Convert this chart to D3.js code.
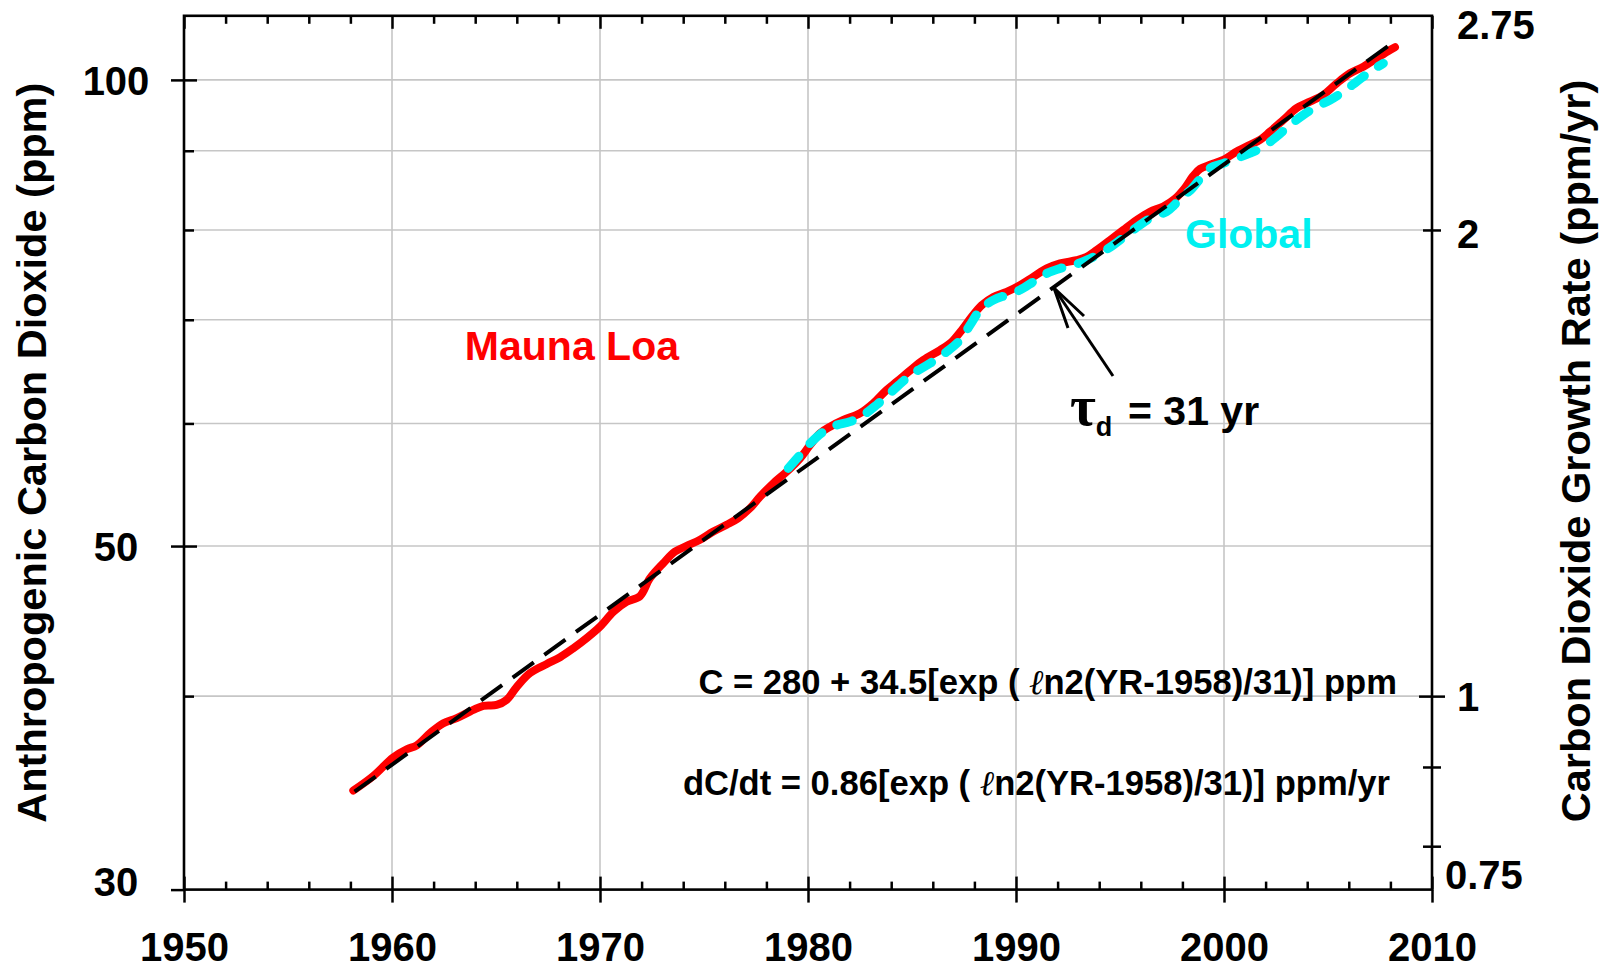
<!DOCTYPE html>
<html><head><meta charset="utf-8">
<script src="https://cdn.jsdelivr.net/npm/d3@7"></script>
<style>
body{margin:0;background:#fff}
svg{display:block}
text{font-family:"Liberation Sans",Arial,Helvetica,sans-serif;font-weight:bold}
</style>
</head><body>
<svg id="chart" width="1609" height="968"></svg>
<script>
// ---------- data ----------
const maunaLoaYears = [1958.14,1959.10,1960.06,1960.71,1961.19,1961.83,1962.47,1963.11,1963.91,1964.39,1965.03,1965.51,1966.00,1966.63,1967.44,1968.08,1968.72,1969.36,1970.00,1970.64,1971.28,1971.92,1972.40,1973.04,1973.61,1974.17,1974.81,1975.45,1976.09,1976.65,1977.21,1977.69,1978.33,1978.98,1979.62,1980.10,1980.58,1981.06,1981.70,1982.50,1983.14,1983.78,1984.30,1984.90,1985.54,1986.35,1986.91,1987.39,1987.87,1988.35,1988.91,1989.55,1990.19,1990.83,1991.48,1992.12,1992.92,1993.40,1993.88,1994.52,1995.16,1995.80,1996.44,1997.08,1997.64,1998.10,1998.52,1998.85,1999.33,1999.97,2000.61,2001.25,2001.73,2002.21,2002.85,2003.49,2004.13,2004.77,2005.42,2006.06,2006.70,2007.34,2007.98,2008.22];
const maunaLoaValues = [34.76,35.52,36.52,36.96,37.18,37.86,38.42,38.71,39.19,39.43,39.48,39.78,40.56,41.39,41.96,42.38,42.95,43.60,44.35,45.34,46.02,46.41,47.66,48.74,49.59,50.01,50.47,51.09,51.61,52.12,52.89,53.80,54.89,55.85,56.97,58.10,59.13,59.71,60.31,60.91,61.83,63.06,63.90,64.90,65.92,66.91,67.74,68.93,70.31,71.53,72.42,72.96,73.70,74.61,75.55,76.12,76.49,76.87,77.64,78.80,80.00,81.19,82.20,82.85,83.80,85.10,86.70,87.60,88.14,88.78,89.89,90.79,91.47,92.59,94.21,95.88,96.82,97.78,99.49,100.99,101.98,103.27,104.55,104.98];

const globalYears = [1979.05,1979.62,1980.10,1980.74,1981.38,1982.02,1982.66,1983.30,1983.94,1984.58,1985.06,1985.87,1986.67,1987.31,1987.79,1988.27,1988.91,1989.55,1990.19,1990.83,1991.48,1992.12,1992.76,1993.40,1994.04,1994.68,1995.32,1995.96,1996.60,1997.24,1997.60,1998.04,1998.40,1998.75,1999.33,1999.97,2000.61,2001.25,2001.89,2002.53,2003.17,2003.81,2004.45,2005.10,2005.74,2006.38,2007.02,2007.66];
const globalValues = [56.12,57.26,58.25,59.27,59.86,60.16,60.76,61.68,62.76,63.90,64.65,65.61,66.75,67.92,69.45,71.01,72.08,72.62,73.16,74.06,75.00,75.55,75.93,76.49,77.25,78.23,79.41,80.60,81.60,82.20,83.00,84.20,84.90,86.00,87.70,88.33,89.00,89.67,90.54,91.91,93.51,94.91,96.10,97.05,98.27,99.74,101.23,102.50];

// exponential fit C-280 = 34.5 exp(ln2 (YR-1958)/31): a straight line on the log axis, end points
const fitYears = [1958.2, 2008.2];
const fitValues = [34.7, 105.9];

const xTickLabels = [1950,1960,1970,1980,1990,2000,2010];
const xMinorTicks = [1952,1954,1956,1958,1962,1964,1966,1968,1972,1974,1976,1978,1982,1984,1986,1988,1992,1994,1996,1998,2002,2004,2006,2008];
const leftTickLabels = [30,50,100];
const leftMinorTicks = [40,60,70,80,90];
const rightTickLabels = [0.75,1,2,2.75];
const rightMinorTicks = [0.8,0.9];
const gridValues = [40,50,60,70,80,90,100];
const gridYears = [1960,1970,1980,1990,2000];

// ---------- layout ----------
const L = 184, R = 1432, T = 15.8, B = 889.6;
const svg = d3.select("#chart");
const x = d3.scaleLinear().domain([1950,2010]).range([L,R]);
const y = d3.scaleLog().domain([30,110]).range([B,T]);
const y2 = d3.scaleLog().domain([0.75,2.75]).range([B,T]);

// grid
const grid = svg.append("g").attr("stroke","#c6c6c6").attr("stroke-width",1.6);
grid.selectAll(".gh").data(gridValues).join("line")
  .attr("x1",L).attr("x2",R).attr("y1",d=>y(d)).attr("y2",d=>y(d));
grid.selectAll(".gv").data(gridYears).join("line")
  .attr("y1",T).attr("y2",B).attr("x1",d=>x(d)).attr("x2",d=>x(d));

// series
const line = d3.line().x(d=>x(d[0])).y(d=>y(d[1])).curve(d3.curveCatmullRom);
const ml = maunaLoaYears.map((t,i)=>[t,maunaLoaValues[i]]);
const gl = globalYears.map((t,i)=>[t,globalValues[i]]);
const fit = fitYears.map((t,i)=>[t,fitValues[i]]);

svg.append("path").attr("d",line(ml)).attr("fill","none")
  .attr("stroke","#ff0000").attr("stroke-width",8).attr("stroke-linecap","round").attr("stroke-linejoin","round");
svg.append("path").attr("d",line(gl)).attr("fill","none")
  .attr("stroke","#00f0f0").attr("stroke-width",9).attr("stroke-linecap","round")
  .attr("stroke-dasharray","16,17");
svg.append("path").attr("d",d3.line().x(d=>x(d[0])).y(d=>y(d[1]))(fit)).attr("fill","none")
  .attr("stroke","#000").attr("stroke-width",4).attr("stroke-dasharray","26,13");

// axes
const fs = 40;
function styleAxis(g){ g.select(".domain").remove(); g.selectAll("line").attr("stroke","#000").attr("stroke-width",2.5); }

// bottom: outward major, inward major + minor
const gb = svg.append("g").attr("transform",`translate(0,${B})`);
gb.call(d3.axisBottom(x).tickValues(xTickLabels).tickFormat(d3.format("d")).tickSize(13).tickPadding(0));
styleAxis(gb);
gb.selectAll("text").attr("font-size",fs).attr("fill","#000").attr("dy",null).attr("y",71);
const gbi = svg.append("g").attr("transform",`translate(0,${B})`);
gbi.call(d3.axisTop(x).tickValues(xTickLabels).tickFormat("").tickSize(13)); styleAxis(gbi);
const gbm = svg.append("g").attr("transform",`translate(0,${B})`);
gbm.call(d3.axisTop(x).tickValues(xMinorTicks).tickFormat("").tickSize(8)); styleAxis(gbm);
// top border ticks (inward)
const gt = svg.append("g").attr("transform",`translate(0,${T})`);
gt.call(d3.axisBottom(x).tickValues(xTickLabels).tickFormat("").tickSize(13)); styleAxis(gt);
const gtm = svg.append("g").attr("transform",`translate(0,${T})`);
gtm.call(d3.axisBottom(x).tickValues(xMinorTicks).tickFormat("").tickSize(8)); styleAxis(gtm);

// left
const gl1 = svg.append("g").attr("transform",`translate(${L},0)`);
gl1.call(d3.axisLeft(y).tickValues(leftTickLabels).tickFormat(d3.format("d")).tickSize(13).tickPadding(0));
styleAxis(gl1);
gl1.selectAll("text").attr("font-size",fs).attr("fill","#000").attr("text-anchor","middle")
  .attr("x",116-L).attr("dy",null).attr("transform",null)
  .attr("y",d=> (y(d)+14.5>895 ? 895-y(d) : 14.5));
const gl2 = svg.append("g").attr("transform",`translate(${L},0)`);
gl2.call(d3.axisRight(y).tickValues(leftTickLabels.filter(v=>v>30)).tickFormat("").tickSize(13)); styleAxis(gl2);
const gl3 = svg.append("g").attr("transform",`translate(${L},0)`);
gl3.call(d3.axisRight(y).tickValues(leftMinorTicks).tickFormat("").tickSize(10)); styleAxis(gl3);

// right
const gr1 = svg.append("g").attr("transform",`translate(${R},0)`);
gr1.call(d3.axisRight(y2).tickValues(rightTickLabels).tickFormat(d3.format("")).tickSize(0).tickPadding(0));
styleAxis(gr1);
gr1.selectAll("text").attr("font-size",fs).attr("fill","#000").attr("text-anchor","start").attr("dy",null)
  .attr("x",d=> d<0.8 ? 1445-R : 1457-R)
  .attr("y",d=> Math.max(38-y2(d), Math.min(888-y2(d), (d===2?18:14.5))));
const grT = svg.append("g").attr("transform",`translate(${R},0)`);
grT.call(d3.axisRight(y2).tickValues([1]).tickFormat("").tickSize(13)); styleAxis(grT);
const grT2 = svg.append("g").attr("transform",`translate(${R},0)`);
grT2.call(d3.axisLeft(y2).tickValues([1]).tickFormat("").tickSize(13)); styleAxis(grT2);
const grM = svg.append("g").attr("transform",`translate(${R},0)`);
grM.call(d3.axisRight(y2).tickValues([2].concat(rightMinorTicks)).tickFormat("").tickSize(9)); styleAxis(grM);
const grM2 = svg.append("g").attr("transform",`translate(${R},0)`);
grM2.call(d3.axisLeft(y2).tickValues([2].concat(rightMinorTicks)).tickFormat("").tickSize(9)); styleAxis(grM2);

// frame
svg.append("rect").attr("x",L).attr("y",T).attr("width",R-L).attr("height",B-T)
  .attr("fill","none").attr("stroke","#000").attr("stroke-width",2.6);

// axis titles
svg.append("text").attr("transform",`translate(46,${(T+B)/2}) rotate(-90)`)
  .attr("text-anchor","middle").attr("font-size",41.5).attr("fill","#000")
  .text("Anthropogenic Carbon Dioxide (ppm)");
svg.append("text").attr("transform",`translate(1590,451) rotate(-90)`)
  .attr("text-anchor","middle").attr("font-size",41.5).attr("fill","#000")
  .text("Carbon Dioxide Growth Rate (ppm/yr)");

// labels
svg.append("text").attr("x",679).attr("y",360).attr("text-anchor","end")
  .attr("font-size",41).attr("fill","#ff0000").text("Mauna Loa");
svg.append("text").attr("x",1185).attr("y",248).attr("text-anchor","start")
  .attr("font-size",41).attr("fill","#00f0f0").text("Global");

// tau label
const tau = svg.append("text").attr("x",1070).attr("y",425).attr("fill","#000");
tau.append("tspan").attr("font-family","'Liberation Serif','Times New Roman',serif").attr("font-size",56).text("τ");
tau.append("tspan").attr("font-size",27).attr("dy",11).text("d");
tau.append("tspan").attr("font-size",41).attr("x",1128).attr("y",425).text("= 31 yr");

// arrow
const arr = svg.append("g").attr("stroke","#000").attr("stroke-width",3).attr("fill","none");
arr.append("line").attr("x1",1113).attr("y1",376).attr("x2",1054).attr("y2",288);
arr.append("polyline").attr("points","1068,328 1054,288 1084,316");

// equations
function eq(xe, yb, pre, post){
  const t = svg.append("text").attr("x",xe).attr("y",yb).attr("text-anchor","end").attr("font-size",34.6).attr("fill","#000");
  t.append("tspan").text(pre);
  t.append("tspan").attr("font-family","'DejaVu Serif','Liberation Serif',serif").attr("font-style","italic").attr("font-weight","normal").text("ℓ");
  t.append("tspan").text(post);
}
eq(1397, 694, "C = 280 + 34.5[exp ( ", "n2(YR-1958)/31)] ppm");
eq(1390, 795, "dC/dt = 0.86[exp ( ", "n2(YR-1958)/31)] ppm/yr");
</script>
</body></html>
